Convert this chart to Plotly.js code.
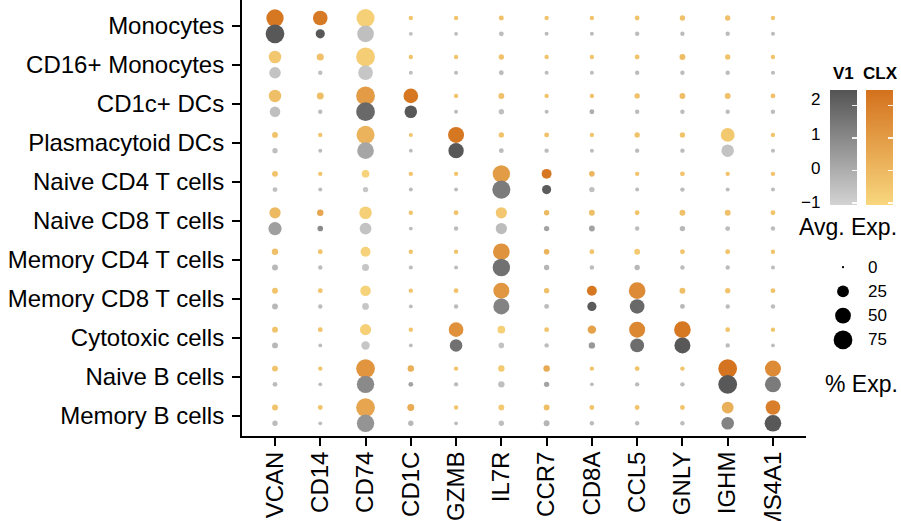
<!DOCTYPE html>
<html>
<head>
<meta charset="utf-8">
<script src="https://cdn.plot.ly/plotly-3.0.1.min.js"></script>
<style>html,body{margin:0;padding:0;background:#fff;}#chart{width:901px;height:521px;}</style>
</head>
<body>
<div id="chart"></div>
<script>
const genes = ["VCAN","CD14","CD74","CD1C","GZMB","IL7R","CCR7","CD8A","CCL5","GNLY","IGHM","MS4A1"];
const cellTypes = ["Monocytes","CD16+ Monocytes","CD1c+ DCs","Plasmacytoid DCs","Naive CD4 T cells","Naive CD8 T cells","Memory CD4 T cells","Memory CD8 T cells","Cytotoxic cells","Naive B cells","Memory B cells"];

// percent expressing, CLX group (rows = cell types, cols = genes)
const pctCLX = [
  [63, 42, 69, 1.2, 1.2, 2.0, 1.2, 1.2, 1.8, 2.6, 2.6, 1.2],
  [29, 6.4, 75, 1.2, 1.2, 2.6, 1.2, 1.2, 1.8, 3.6, 2.6, 1.2],
  [29, 6.0, 75, 42, 1.2, 3.6, 1.2, 1.2, 2.6, 3.6, 3.6, 1.8],
  [3.6, 1.2, 69, 0.8, 52, 2.6, 1.8, 1.2, 2.6, 2.6, 37, 1.2],
  [3.6, 1.2, 8, 1.2, 1.2, 63, 16, 3.0, 1.2, 1.8, 1.2, 1.2],
  [22, 4.7, 29, 1.2, 1.8, 22, 2.6, 3.6, 1.8, 3.6, 3.6, 1.8],
  [4.7, 1.8, 16, 1.2, 1.2, 57, 3.0, 1.8, 3.6, 1.8, 1.8, 1.2],
  [3.6, 1.8, 19, 1.2, 1.8, 52, 2.6, 16, 57, 3.6, 2.6, 1.8],
  [3.6, 1.8, 22, 1.2, 42, 8, 1.8, 10.5, 52, 57, 1.8, 1.2],
  [3.6, 1.2, 75, 4.7, 1.2, 4.7, 4.7, 1.2, 1.8, 1.2, 75, 52],
  [3.6, 1.8, 75, 6.0, 1.2, 3.6, 3.6, 1.8, 1.8, 1.8, 25, 42]
];
// scaled average expression, CLX group
const expCLX = [
  [2.3, 2.2, -0.8, -0.4, -0.4, -0.3, -0.4, -0.4, -0.4, -0.3, -0.3, -0.4],
  [-0.5, -0.3, -0.7, -0.4, -0.4, -0.3, -0.4, -0.4, -0.4, -0.1, -0.4, -0.4],
  [-0.2, -0.2, 1.05, 2.3, -0.4, -0.3, -0.4, -0.3, -0.3, -0.2, -0.3, -0.3],
  [-0.4, -0.4, 0.2, -0.4, 2.3, -0.4, -0.3, -0.4, -0.4, -0.4, -0.55, -0.4],
  [-0.4, -0.4, -0.9, -0.4, -0.4, 1.0, 2.3, 0.1, -0.4, -0.4, -0.4, -0.4],
  [0.0, 0.7, -0.8, -0.4, -0.4, -0.5, 0.0, -0.2, -0.4, -0.3, -0.3, -0.4],
  [-0.3, -0.4, -0.9, -0.4, -0.4, 1.3, 0.2, -0.4, -0.6, -0.4, -0.4, -0.4],
  [-0.4, -0.4, -0.9, -0.4, -0.4, 1.2, -0.3, 2.3, 1.6, -0.2, -0.4, -0.4],
  [-0.4, -0.4, -0.8, -0.4, 1.4, -0.8, -0.4, 0.8, 1.7, 2.3, -0.4, -0.4],
  [-0.4, -0.4, 1.25, 0.3, -0.4, -0.6, 0.5, -0.4, -0.4, -0.4, 2.4, 1.6],
  [-0.4, -0.4, 0.7, 0.45, -0.4, -0.6, -0.2, -0.4, -0.4, -0.4, 0.3, 2.0]
];
// percent expressing, V1 group
const pctV1 = [
  [75, 13, 57, 0.6, 0.6, 1.8, 0.8, 0.8, 1.2, 1.2, 1.2, 0.8],
  [24, 1.2, 42, 0.8, 0.8, 1.8, 0.8, 0.8, 1.2, 1.2, 1.2, 0.8],
  [19, 1.2, 75, 29, 0.8, 2.6, 0.8, 1.8, 1.2, 1.2, 1.2, 1.2],
  [2.6, 0.8, 57, 0.6, 47, 1.8, 1.2, 0.8, 1.2, 1.2, 29, 0.8],
  [1.8, 0.8, 2.6, 0.8, 0.8, 69, 13, 2.6, 0.8, 1.2, 0.8, 0.8],
  [33, 3.0, 25, 0.6, 1.2, 22, 2.6, 3.6, 1.2, 2.6, 1.8, 1.2],
  [3.6, 1.2, 6.0, 0.8, 0.8, 63, 2.6, 1.2, 2.6, 1.2, 1.2, 0.8],
  [3.6, 1.2, 5.5, 0.6, 1.2, 52, 1.8, 13, 42, 1.8, 1.2, 1.2],
  [3.6, 0.6, 10.5, 0.6, 29, 3.0, 1.2, 4.7, 37, 52, 1.2, 0.6],
  [1.8, 0.6, 63, 1.8, 1.2, 4.7, 2.6, 0.6, 1.2, 1.2, 75, 52],
  [2.6, 0.6, 63, 2.6, 0.6, 2.6, 3.6, 1.2, 1.2, 1.2, 29, 57]
];
// scaled average expression, V1 group
const expV1 = [
  [2.4, 2.4, -0.5, -0.5, -0.4, -0.4, -0.4, -0.4, -0.4, -0.4, -0.4, -0.4],
  [-0.6, -0.5, -0.7, -0.5, -0.4, -0.4, -0.4, -0.4, -0.4, -0.4, -0.4, -0.4],
  [-0.5, -0.4, 1.9, 2.4, -0.4, -0.5, -0.4, 0.0, -0.4, -0.4, -0.4, -0.4],
  [-0.5, -0.4, 0.2, -0.4, 2.4, -0.4, -0.4, -0.4, -0.4, -0.4, -0.6, -0.4],
  [-0.5, -0.4, -0.7, -0.4, -0.4, 1.4, 2.3, -0.5, -0.4, -0.4, -0.4, -0.4],
  [0.4, 1.0, -0.6, -0.4, -0.4, -0.4, 0.3, 0.3, -0.4, -0.3, -0.4, -0.4],
  [-0.3, -0.4, -0.7, -0.4, -0.4, 1.7, -0.2, -0.4, -0.3, -0.4, -0.4, -0.4],
  [-0.3, -0.4, -0.7, -0.4, -0.4, 1.2, -0.4, 2.3, 1.9, -0.3, -0.4, -0.4],
  [-0.3, -0.4, -0.7, -0.4, 1.7, -0.6, -0.4, 0.6, 1.8, 2.4, -0.4, -0.4],
  [-0.4, -0.4, 1.0, 0.3, -0.4, -0.5, 0.3, -0.4, -0.4, -0.4, 2.4, 1.4],
  [-0.4, -0.4, 0.7, -0.3, -0.4, -0.5, -0.2, -0.4, -0.4, -0.4, 1.2, 2.4]
];
const colorTicks = [-1, 0, 1, 2];
const sizeLegend = [0, 25, 50, 75];

const nRows = cellTypes.length;
function dia(p) { return 2.3 + 1.9 * Math.sqrt(p); }

function buildTrace(pct, exp, offset, axisName) {
  const x = [], y = [], s = [], c = [];
  for (let k = 0; k < nRows; k++) {
    for (let j = 0; j < genes.length; j++) {
      x.push(j);
      y.push((nRows - 1 - k) + offset);
      s.push(dia(pct[k][j]));
      c.push(exp[k][j]);
    }
  }
  return {
    type: 'scatter', mode: 'markers', x: x, y: y, hoverinfo: 'skip',
    marker: { size: s, color: c, coloraxis: axisName, line: { width: 0 }, opacity: 1 },
    cliponaxis: false
  };
}

const tCLX = buildTrace(pctCLX, expCLX, 0.205, 'coloraxis');
const tV1 = buildTrace(pctV1, expV1, -0.2, 'coloraxis2');

const tSize = {
  type: 'scatter', mode: 'markers', xaxis: 'x2', yaxis: 'y2',
  x: sizeLegend.map(() => 0.5), y: sizeLegend.map((v, i) => i),
  marker: { size: sizeLegend.map(dia), color: 'rgb(0,0,0)', opacity: 1, line: { width: 0 } },
  opacity: 1, hoverinfo: 'skip', cliponaxis: false
};

const W = 901, H = 521, L = 242, B = 85;
const PW = W - L, PH = H - B;
const px = v => (v - L) / PW;
const py = v => (PH - v) / PH;

const font = "Liberation Sans, Arial, sans-serif";

const cbCommon = {
  xref: 'container', yref: 'container', xanchor: 'left', xpad: 0,
  y: 1 - 107 / H, yanchor: 'top', ypad: 0,
  len: 115, lenmode: 'pixels', thickness: 27, thicknessmode: 'pixels',
  outlinewidth: 0, borderwidth: 0,
  tickmode: 'array', tickvals: colorTicks, ticks: 'inside', ticklen: 5,
  tickcolor: 'rgba(255,255,255,0.9)', tickwidth: 1.5, showticklabels: false
};

const annotations = [
  { text: '<b>V1</b>', x: px(843.5), y: py(74), xref: 'paper', yref: 'paper', showarrow: false, xanchor: 'center', yanchor: 'middle', font: { size: 17, color: '#000', family: font } },
  { text: '<b>CLX</b>', x: px(880), y: py(74), xref: 'paper', yref: 'paper', showarrow: false, xanchor: 'center', yanchor: 'middle', font: { size: 17, color: '#000', family: font } },
  { text: 'Avg. Exp.', x: px(797), y: py(227), xref: 'paper', yref: 'paper', showarrow: false, xanchor: 'left', yanchor: 'middle', font: { size: 23, color: '#000', family: font } },
  { text: '% Exp.', x: px(823), y: py(384), xref: 'paper', yref: 'paper', showarrow: false, xanchor: 'left', yanchor: 'middle', font: { size: 23, color: '#000', family: font } }
];
colorTicks.forEach(v => {
  annotations.push({ text: v < 0 ? '\u2212' + Math.abs(v) : String(v), x: px(822), y: py(100 + (2 - v) * 34.3), xref: 'paper', yref: 'paper', showarrow: false, xanchor: 'right', yanchor: 'middle', font: { size: 17, color: '#000', family: font } });
});
sizeLegend.forEach((v, i) => {
  annotations.push({ text: String(v), x: px(866), y: i, xref: 'paper', yref: 'y2', showarrow: false, xanchor: 'left', yanchor: 'middle', font: { size: 17, color: '#000', family: font } });
});

const layout = {
  width: W, height: H,
  margin: { l: L, r: 0, t: 0, b: B, pad: 0, autoexpand: false },
  paper_bgcolor: '#fff', plot_bgcolor: '#fff',
  showlegend: false,
  font: { family: font, color: '#000' },
  xaxis: {
    domain: [0, 564 / PW], range: [-0.729, 11.73],
    tickmode: 'array', tickvals: genes.map((g, i) => i), ticktext: genes,
    tickangle: -90, tickfont: { size: 24, color: '#000', family: font }, ticklabelstandoff: -4,
    showline: true, linecolor: '#000', linewidth: 2,
    ticks: 'outside', ticklen: 8, tickwidth: 2, tickcolor: '#000',
    showgrid: false, zeroline: false, fixedrange: true, automargin: false
  },
  yaxis: {
    range: [-0.526, 10.668],
    tickmode: 'array', tickvals: cellTypes.map((c, k) => nRows - 1 - k), ticktext: cellTypes,
    tickfont: { size: 24, color: '#000', family: font }, ticklabelstandoff: 3,
    showline: true, linecolor: '#000', linewidth: 2,
    ticks: 'outside', ticklen: 8, tickwidth: 2, tickcolor: '#000',
    showgrid: false, zeroline: false, fixedrange: true, automargin: false
  },
  xaxis2: { domain: [px(833), px(853)], anchor: 'y2', range: [0, 1], visible: false, fixedrange: true },
  yaxis2: { domain: [py(352), py(255)], anchor: 'x2', range: [3.5, -0.5], visible: false, fixedrange: true },
  coloraxis: {
    cmin: -1.05, cmax: 2.5,
    colorscale: [[0, '#F8D77E'], [1, '#D4711D']],
    colorbar: Object.assign({ x: 866 / W }, cbCommon)
  },
  coloraxis2: {
    cmin: -1.05, cmax: 2.5,
    colorscale: [[0, '#D3D3D3'], [1, '#545454']],
    colorbar: Object.assign({ x: 830 / W }, cbCommon)
  },
  annotations: annotations
};

Plotly.newPlot('chart', [tCLX, tV1, tSize], layout, { displayModeBar: false, staticPlot: true });
</script>
</body>
</html>
